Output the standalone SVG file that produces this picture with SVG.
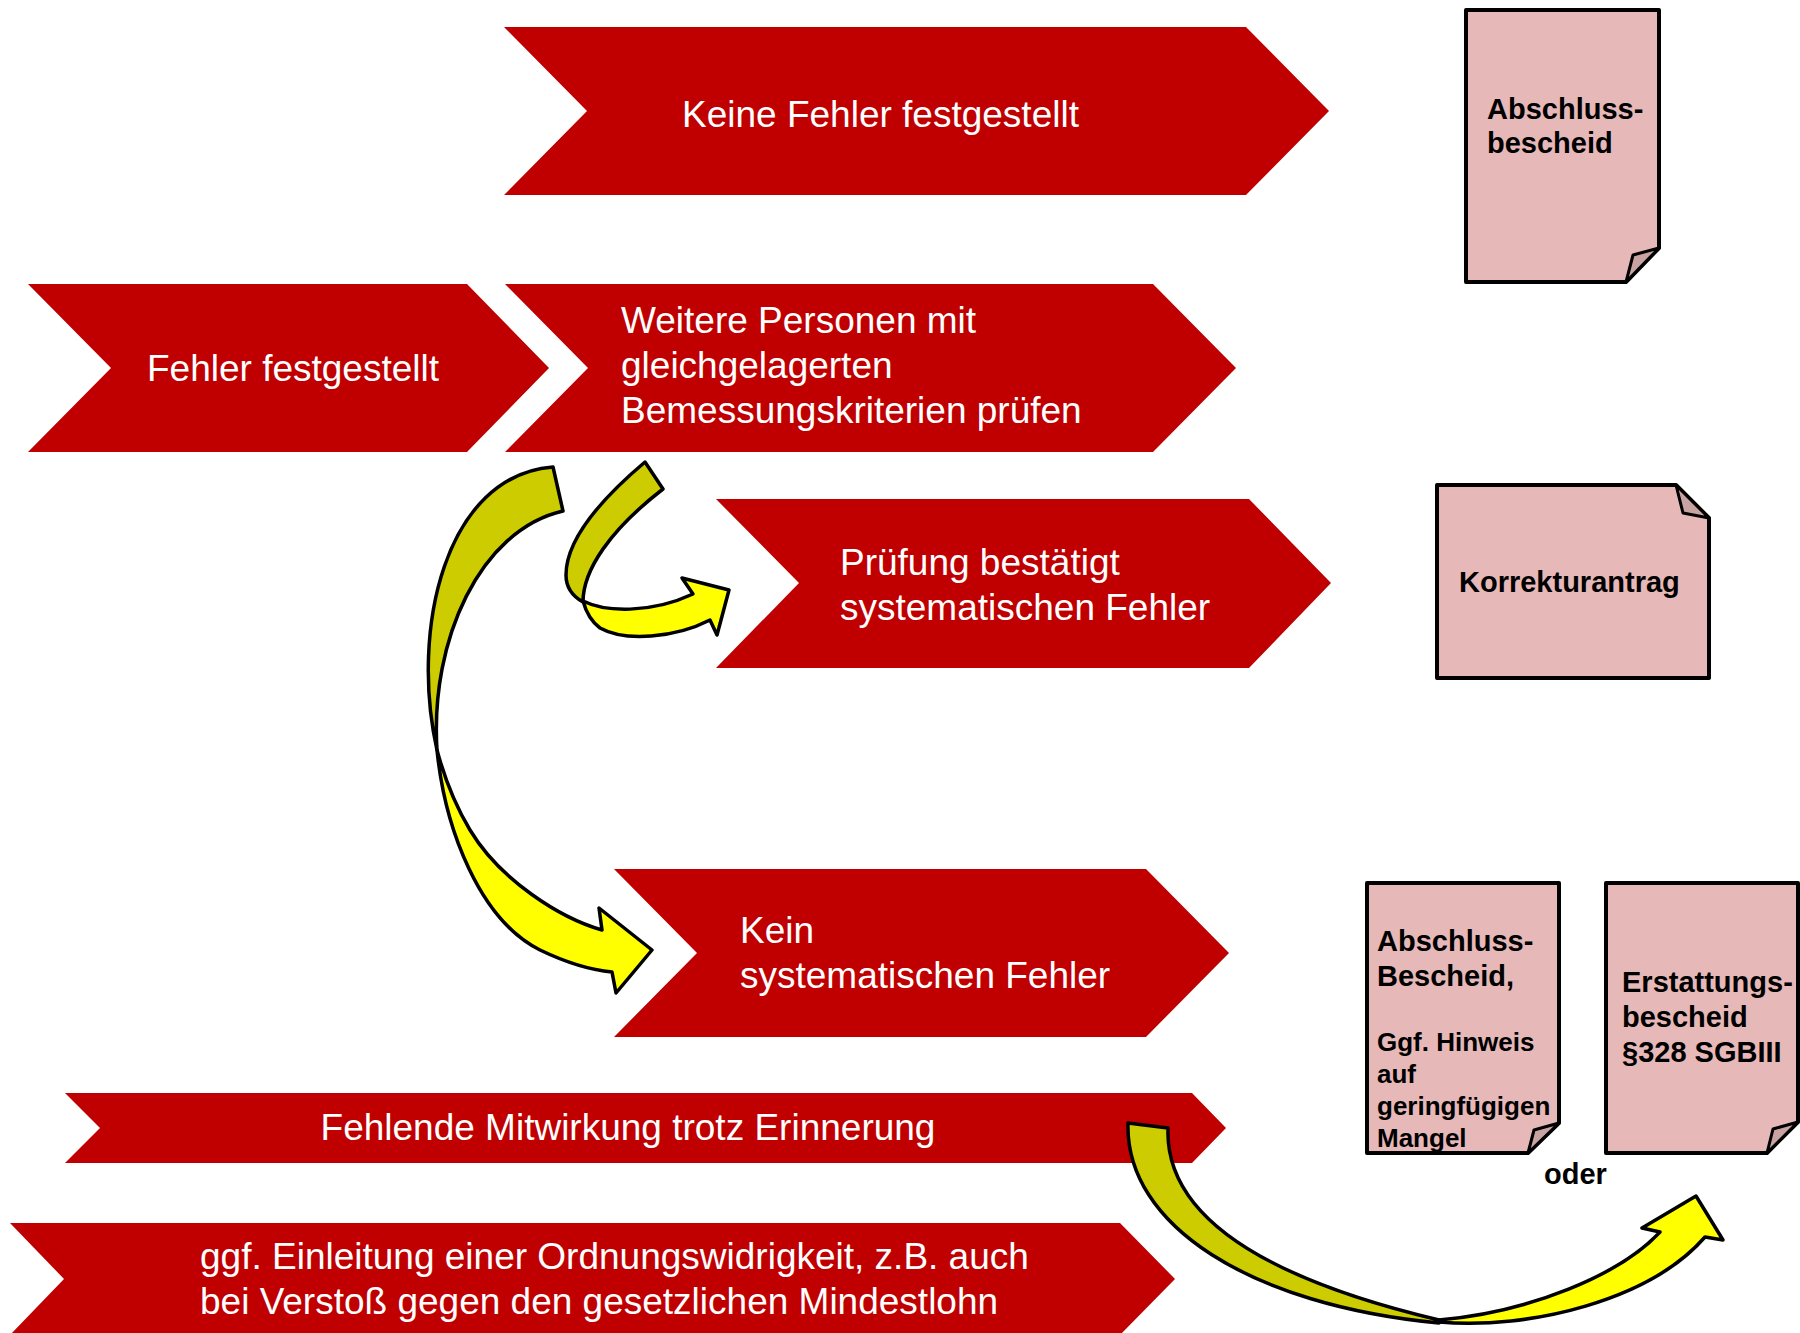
<svg xmlns="http://www.w3.org/2000/svg" width="1800" height="1333" viewBox="0 0 1800 1333">
<style>
.chev{fill:#c00000}
.wt{fill:#ffffff;font-family:"Liberation Sans",Arial,sans-serif;font-size:37px}
.doc{fill:#e6b8b7}
.docl{fill:none;stroke:#000;stroke-width:4;stroke-linejoin:round}
.flap{fill:#c9a2a2;stroke:#000;stroke-width:3;stroke-linejoin:round}
.bt{fill:#000;font-family:"Liberation Sans",Arial,sans-serif;font-weight:bold;font-size:29px}
.bs{font-size:26px}
.dark{fill:#cccc00;stroke:#000;stroke-width:3.5;stroke-linejoin:round}
.yel{fill:#ffff00;stroke:#000;stroke-width:3.5;stroke-linejoin:round}
</style>
<rect width="1800" height="1333" fill="#ffffff"/>
<g id="n-keine">
<polygon class="chev" points="504,27 1246,27 1329,111 1246,195 504,195 587,111"/>
<text class="wt" x="682" y="127">Keine Fehler festgestellt</text>
</g>
<g id="n-fehler">
<polygon class="chev" points="28,284 467,284 549,368 467,452 28,452 111,368"/>
<text class="wt" x="147" y="381">Fehler festgestellt</text>
</g>
<g id="n-weitere">
<polygon class="chev" points="505,284 1153,284 1236,368 1153,452 505,452 588,368"/>
<text class="wt" x="621" y="333">Weitere Personen mit</text>
<text class="wt" x="621" y="378">gleichgelagerten</text>
<text class="wt" x="621" y="423">Bemessungskriterien prüfen</text>
</g>
<g id="n-pruefung">
<polygon class="chev" points="716,499 1249,499 1331,583 1249,668 716,668 799,583"/>
<text class="wt" x="840" y="575">Prüfung bestätigt</text>
<text class="wt" x="840" y="620">systematischen Fehler</text>
</g>
<g id="n-kein">
<polygon class="chev" points="614,869 1146,869 1229,953 1146,1037 614,1037 697,953"/>
<text class="wt" x="740" y="943">Kein</text>
<text class="wt" x="740" y="988">systematischen Fehler</text>
</g>
<g id="n-fehlende">
<polygon class="chev" points="65,1093 1192,1093 1226,1128 1192,1163 65,1163 100,1128"/>
<text class="wt" x="628" y="1140" text-anchor="middle">Fehlende Mitwirkung trotz Erinnerung</text>
</g>
<g id="n-ggf">
<polygon class="chev" points="10,1223 1120,1223 1175,1279 1120,1335 10,1335 64,1279"/>
<text class="wt" x="200" y="1269">ggf. Einleitung einer Ordnungswidrigkeit, z.B. auch</text>
<text class="wt" x="200" y="1314">bei Verstoß gegen den gesetzlichen Mindestlohn</text>
</g>
<g id="d-abschluss1">
<path class="doc" d="M1466,10 H1659 V248 L1626,282 H1466 Z"/>
<text class="bt" x="1487" y="119">Abschluss-</text>
<text class="bt" x="1487" y="153">bescheid</text>
<path class="docl" d="M1466,10 H1659 V248 L1626,282 H1466 Z"/>
<path class="flap" d="M1659,248 L1633,255 L1626,282 Z"/>
</g>
<g id="d-korrektur">
<path class="doc" d="M1437,485 H1676 L1709,518 V678 H1437 Z"/>
<text class="bt" x="1459" y="592">Korrekturantrag</text>
<path class="docl" d="M1437,485 H1676 L1709,518 V678 H1437 Z"/>
<path class="flap" d="M1676,485 L1683,513 L1709,518 Z"/>
</g>
<g id="d-abschluss2">
<path class="doc" d="M1367,883 H1559 V1123 L1528,1153 H1367 Z"/>
<text class="bt" x="1377" y="951">Abschluss-</text>
<text class="bt" x="1377" y="986">Bescheid,</text>
<text class="bt bs" x="1377" y="1051">Ggf. Hinweis</text>
<text class="bt bs" x="1377" y="1083">auf</text>
<text class="bt bs" x="1377" y="1115">geringfügigen</text>
<text class="bt bs" x="1377" y="1147">Mangel</text>
<path class="docl" d="M1367,883 H1559 V1123 L1528,1153 H1367 Z"/>
<path class="flap" d="M1559,1123 L1534,1130 L1528,1153 Z"/>
</g>
<g id="d-erstattung">
<path class="doc" d="M1606,883 H1798 V1122 L1767,1153 H1606 Z"/>
<text class="bt" x="1622" y="992">Erstattungs-</text>
<text class="bt" x="1622" y="1027">bescheid</text>
<text class="bt" x="1622" y="1062">§328 SGBIII</text>
<path class="docl" d="M1606,883 H1798 V1122 L1767,1153 H1606 Z"/>
<path class="flap" d="M1798,1122 L1773,1129 L1767,1153 Z"/>
</g>
<g id="l-oder">
<text class="bt" x="1544" y="1184">oder</text>
</g>
<g id="connectors">
<g id="arrow-a">
<path class="dark" d="M645,462 L663,489 C610,530 583,570 583,602 C574,597 566,588 566,575 C566,540 600,500 645,462 Z"/>
<path class="yel" d="M583,601 C605,612 650,614 693,594 L682,578 L729,590 L717,635 L710,620 C675,638 625,642 600,628 C592,622 586,612 583,601 Z"/>
</g>
<g id="arrow-b">
<path class="dark" d="M553,467 L563,511 C480,530 430,640 437,750 C410,630 445,475 553,467 Z"/>
<path class="yel" d="M437,750 C445,830 480,920 540,950 C565,962 590,970 612,972 L616,993 L652,950 L599,908 L602,930 C560,918 500,880 470,830 C455,805 445,780 437,750 Z"/>
</g>
<g id="arrow-c">
<path class="dark" d="M1128,1123 L1168,1128 C1165,1210 1250,1275 1439,1320 L1439,1323 C1250,1305 1125,1225 1128,1123 Z"/>
<path class="yel" d="M1439,1322 C1530,1330 1650,1300 1705,1237 L1723,1240 L1696,1196 L1642,1228 L1660,1232 C1620,1275 1530,1312 1439,1320 Z"/>
</g>
</g>
</svg>
